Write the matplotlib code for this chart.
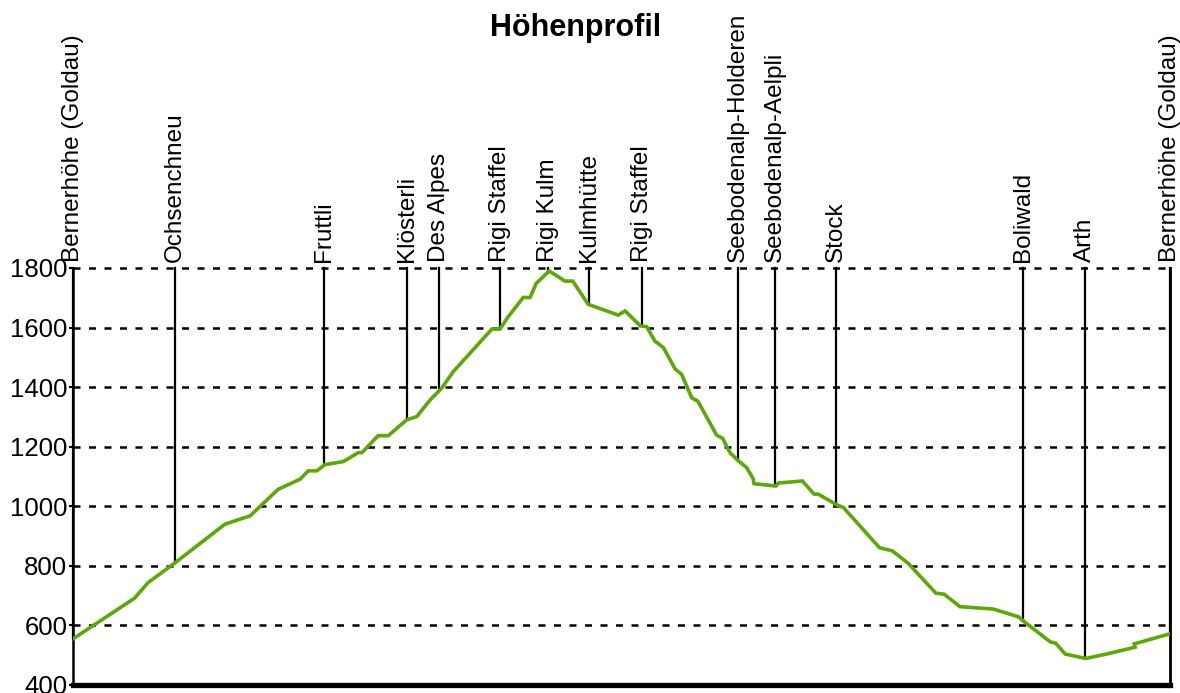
import numpy as np
import matplotlib.pyplot as plt

# profile: distance (km) and elevation (m)
dist = [0.0, 1.51, 1.85, 2.51, 3.74, 4.36, 5.05, 5.59, 5.79, 6.00, 6.20,
        6.65, 7.02, 7.11, 7.51, 7.76, 8.21, 8.46, 8.79, 9.07, 9.36,
        10.31, 10.51, 10.71, 11.08, 11.25, 11.40, 11.72, 12.11, 12.30, 12.68,
        13.42, 13.59, 13.96, 14.12, 14.32, 14.53, 14.82, 14.98, 15.23, 15.38,
        15.84, 15.99, 16.17, 16.38, 16.58, 16.74, 16.76, 17.30, 17.36, 17.95,
        18.24, 18.34, 18.81, 18.96, 19.85, 20.17, 20.56, 21.24, 21.44, 21.83,
        22.65, 23.27, 23.39, 24.05, 24.19, 24.42, 24.93, 25.44, 26.14, 26.12,
        27.0]
elev = [555, 691, 744, 810, 940, 968, 1057, 1091, 1119, 1119, 1140,
        1150, 1180, 1180, 1237, 1237, 1290, 1301, 1357, 1396, 1452,
        1595, 1595, 1636, 1701, 1701, 1748, 1790, 1756, 1756, 1678,
        1642, 1656, 1606, 1603, 1555, 1533, 1461, 1443, 1364, 1353,
        1239, 1228, 1180, 1152, 1130, 1093, 1076, 1068, 1078, 1085,
        1041, 1041, 1004, 996, 861, 850, 808, 708, 705, 663,
        655, 629, 615, 545, 540, 504, 489, 504, 527, 538,
        572]

# waypoints
wp_names = ["Bernerhöhe (Goldau)", "Ochsenchneu", "Fruttli", "Klösterli", "Des Alpes",
            "Rigi Staffel", "Rigi Kulm", "Kulmhütte", "Rigi Staffel",
            "Seebodenalp-Holderen", "Seebodenalp-Aelpli", "Stock", "Boliwald", "Arth",
            "Bernerhöhe (Goldau)"]
wp_dist = [0.0, 2.51, 6.18, 8.22, 9.01, 10.51, 11.69, 12.70, 14.01,
           16.37, 17.28, 18.78, 23.38, 24.91, 27.0]
wp_elev = [555, 810, 1140, 1290, 1396, 1595, 1790, 1678, 1604,
           1152, 1068, 1004, 615, 489, 572]

yticks = [400, 600, 800, 1000, 1200, 1400, 1600, 1800]

plt.rcParams['font.family'] = ['Liberation Sans', 'DejaVu Sans']

fig = plt.figure(figsize=(11.8, 6.93), dpi=100)
ax = fig.add_axes([73/1180, 8/693, 1097/1180, 417/693])
ax.set_xlim(0, 27)
ax.set_ylim(400, 1800)

for y in yticks[1:]:
    ax.axhline(y, color='k', lw=1.8, ls=(0, (2.8, 3.4)), zorder=1, clip_on=False)

for name, x, e in zip(wp_names, wp_dist, wp_elev):
    ax.plot([x, x], [e, 1800], color='k', lw=1.6, zorder=2, clip_on=False)
    ax.annotate(name, xy=(x, 1800), xytext=(0, 4), textcoords='offset points',
                rotation=90, ha='center', va='bottom', fontsize=17.5,
                annotation_clip=False)

ax.plot(dist, elev, color='#5ea70a', lw=2.6, zorder=3, solid_joinstyle='miter')

ax.set_yticks(yticks)
ax.set_xticks([])
ax.tick_params(axis='y', labelsize=18.5, length=3, width=1.5, pad=1)
ax.spines['top'].set_visible(False)
ax.spines['bottom'].set_linewidth(3.8)
ax.spines['left'].set_linewidth(1.8)
ax.spines['right'].set_linewidth(2.0)

fig.text(576/1180, 1 - 36/693, "Höhenprofil", ha='center', va='baseline',
         fontsize=22, fontweight='bold')

fig.savefig('out.png', dpi=100)
